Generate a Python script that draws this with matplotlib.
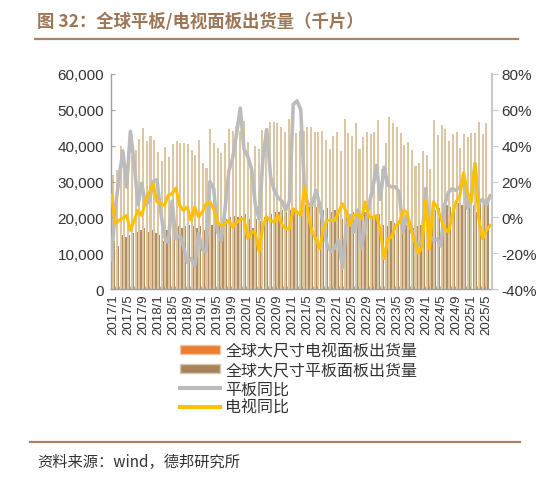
import numpy as np
import matplotlib
matplotlib.use("Agg")
import matplotlib.pyplot as plt
from matplotlib.patches import Patch
from matplotlib.lines import Line2D
from matplotlib.ticker import FuncFormatter

plt.rcParams['font.family'] = ['Liberation Sans', 'Noto Sans CJK SC', 'DejaVu Sans']

# months 2017/1 .. 2025/5
months = [f"{y}/{m}" for y in range(2017, 2026) for m in range(1, 13)][:101]

# 全球大尺寸电视面板出货量 (千片)
tv = [31.8, 33.2, 39.8, 36.7, 35.5, 37.0, 38.8, 41.9, 44.8, 41.4, 42.8, 41.6,
      38.1, 35.6, 39.5, 36.7, 40.5, 41.4, 40.7, 40.7, 40.5, 38.9, 37.4, 41.6,
      35.1, 33.8, 44.7, 40.7, 39.3, 38.0, 40.7, 44.6, 44.1, 45.4, 44.0, 47.0,
      41.0, 34.0, 40.0, 39.0, 44.4, 44.2, 46.7, 46.5, 46.2, 45.1, 43.9, 47.4,
      43.4, 43.4, 44.0, 44.0, 45.1, 45.1, 43.9, 43.7, 44.0, 41.6, 39.1, 42.8,
      43.7, 38.5, 47.4, 43.4, 42.8, 46.2, 39.1, 42.5, 43.7, 43.3, 43.7, 47.2,
      33.5, 40.7, 48.1, 46.2, 45.1, 43.4, 40.1, 40.9, 38.9, 34.4, 35.3, 38.6,
      37.4, 33.5, 47.3, 43.1, 45.9, 44.7, 41.4, 43.3, 43.7, 39.3, 43.3, 42.3,
      43.5, 43.5, 46.7, 43.3, 46.2]
tv = [v * 1000 for v in tv]

# 全球大尺寸平板面板出货量 (千片)
tablet = [13.5, 12.0, 15.0, 14.5, 15.0, 15.5, 16.0, 16.5, 17.0, 16.0, 16.5, 15.5,
          15.0, 13.5, 16.5, 16.0, 17.0, 17.5, 17.0, 17.5, 18.0, 17.5, 17.0, 17.5,
          16.5, 15.0, 18.0, 18.0, 18.5, 19.0, 19.5, 20.0, 20.5, 20.0, 20.5, 21.0,
          19.5, 17.0, 19.5, 19.0, 20.0, 20.5, 21.0, 21.5, 21.5, 22.0, 21.5, 22.0,
          22.5, 21.0, 23.0, 23.5, 23.0, 23.5, 23.0, 22.5, 22.0, 22.5, 21.5, 22.0,
          21.5, 19.5, 22.0, 21.0, 21.5, 22.0, 21.0, 21.5, 20.5, 20.0, 20.5, 21.0,
          18.0, 17.5, 19.0, 18.5, 19.0, 18.5, 18.0, 17.5, 17.0, 17.5, 18.0, 19.0,
          21.0, 18.5, 22.0, 22.5, 23.0, 23.5, 23.0, 22.5, 24.0, 23.5, 24.5, 24.0,
          23.5, 21.5, 24.0, 23.5, 24.5]
tablet = [v * 1000 for v in tablet]

# 平板同比 (%)
tablet_yoy = [-24, 5, 22, 37, 17, 48, 30, 7, 19, 7, 9, 20,
              21, 3, -11, -14, 9, -12, -10, -16, -25, -23, -27, -9,
              -18, -19, 20, 16, -8, -13, 5, 26, 33, 46, 61, 38,
              34, 27, 7, -1, 33, 49, 23, 15, 11, 9, 4, 9,
              63, 65, 60, 14, 7, 7, 15, 7, -5, -16, -19, -17,
              -13, -28, -5, 1, -8, 4, -17, -5, 7, 16, 29, 10,
              28, 18, 17, 17, 14, -8, 1, -5, -12, -16, -13, 16,
              -10, -13, -12, -16, 7, 14, 16, 15, 17, 20, 5, 10,
              30, 8, 10, 7, 12]

# 电视同比 (%)
tv_yoy = [12.6, -3.5, -1.7, -0.4, 1.0, -7.3, -1.7, 3.9, 1.0, 9.5, 14.0, 18.8,
          8.6, 7.6, 6.7, 12.3, 13.2, 16.4, 6.7, 3.9, 5.8, -1.7, 5.8, 0.2,
          3.0, 7.6, 8.6, 4.8, -3.0, -4.5, -3.5, -1.7, -5.4, -3.0, -1.1, -0.7,
          -11.9, -7.8, -9.1, -19.0, -4.5, 0.2, -1.7, -2.6, 1.1, -4.0, -6.3, -6.4,
          4.8, 3.0, 1.1, 17.0, 1.1, -8.2, -11.9, -17.5, -6.3, -1.7, -1.7, -1.7,
          3.0, 7.6, 3.0, -4.5, 1.1, 2.0, -0.7, 8.6, 0.2, 0.0, 1.0, -7.0,
          -23.0, -12.0, -11.0, -5.0, -3.0, 4.0, 3.0, -6.0, -13.0, -20.0, -17.0, 9.5,
          -17.5, 8.6, 5.8, -0.7, -6.3, -8.2, 1.1, 8.6, 12.0, 25.0, 14.0, 8.6,
          30.0, -0.7, -12.0, -7.3, -4.5]

TAN = "#DCC7A2"
BROWN = "#B38D63"
GRAY = "#BCBCBC"
YELLOW = "#FFC000"
TITLE_C = "#9C7655"
AXIS_C = "#A0A0A0"
TEXT_C = "#333333"

fig = plt.figure(figsize=(5.52, 4.85), dpi=100)
rect = [111.3 / 552, 1 - 290 / 485, (492 - 111.3) / 552, (290 - 75) / 485]
ax = fig.add_axes(rect)

x = np.arange(len(months))
ax.bar(x, tv, width=0.55, color=TAN, linewidth=0)
ax.bar(x + 0.45, tablet, width=0.33, color=BROWN, linewidth=0)

ax.set_xlim(-0.5, 101.5)
ax.set_ylim(0, 60000)
ax.set_yticks(np.arange(0, 60001, 10000))
ax.yaxis.set_major_formatter(FuncFormatter(lambda v, p: f"{int(v):,}"))
ax.set_xticks(x[::4])
ax.set_xticklabels(months[::4], rotation=90, fontsize=9.5, color=TEXT_C)
ax.set_xticks(np.arange(-0.5, 101.5, 1), minor=True)
ax.tick_params(axis='x', which='major', length=0, pad=3)
ax.tick_params(axis='x', which='minor', length=2.5, direction='in', color=AXIS_C)
ax.tick_params(axis='y', length=3, direction='in', color=AXIS_C, labelsize=11,
               labelcolor=TEXT_C, pad=5)
for s in ['top', 'right']:
    ax.spines[s].set_visible(False)
for s in ['left', 'bottom']:
    ax.spines[s].set_color(AXIS_C)
    ax.spines[s].set_linewidth(1.0)

# lines on their own axes (placed on tick marks, edge to edge)
ax2 = fig.add_axes(rect, facecolor='none')
ax2.plot(np.arange(len(tablet_yoy)), tablet_yoy, color=GRAY, lw=2.6, solid_joinstyle='round')
ax2.plot(np.arange(len(tv_yoy)), tv_yoy, color=YELLOW, lw=2.2, solid_joinstyle='round')
ax2.set_xlim(-0.05, 100.5)
ax2.set_ylim(-40, 80)
ax2.set_yticks(np.arange(-40, 81, 20))
ax2.yaxis.set_major_formatter(FuncFormatter(lambda v, p: f"{int(v)}%"))
ax2.yaxis.tick_right()
ax2.set_xticks([])
ax2.tick_params(axis='y', length=4, direction='out', color="#C8C8C8", labelsize=11,
                labelcolor=TEXT_C, pad=3)
for s in ['top', 'left', 'bottom']:
    ax2.spines[s].set_visible(False)
ax2.spines['right'].set_color("#C8C8C8")
ax2.spines['right'].set_linewidth(1.5)

# legend
handles = [
    Patch(facecolor="#ED7D31", edgecolor="#E8C9A8", linewidth=1.0),
    Patch(facecolor="#A8845C", edgecolor="#D8C8B0", linewidth=1.0),
    Line2D([], [], color=GRAY, lw=3),
    Line2D([], [], color=YELLOW, lw=3),
]
labels = ["全球大尺寸电视面板出货量", "全球大尺寸平板面板出货量", "平板同比", "电视同比"]
fig.legend(handles, labels, loc='upper left', bbox_to_anchor=(166 / 552, 1 - 329 / 485),
           frameon=False, prop={'family': 'Noto Sans CJK SC', 'size': 11.5},
           handlelength=2.5, handleheight=0.5, labelspacing=0.12, handletextpad=0.3,
           labelcolor=TEXT_C)

# title, rules, source
fig.text(37 / 552, 1 - 22 / 485, "图 32：全球平板/电视面板出货量（千片）", color=TITLE_C,
         fontsize=12.5, fontweight='bold', va='center', ha='left',
         family=['Noto Sans CJK SC', 'DejaVu Sans'])
fig.add_artist(Line2D([35 / 552, 518 / 552], [1 - 40 / 485, 1 - 40 / 485],
                      color="#A88464", lw=1.6))
fig.add_artist(Line2D([30 / 552, 520 / 552], [1 - 443 / 485, 1 - 443 / 485],
                      color="#A88464", lw=1.6))
fig.text(37 / 552, 1 - 462 / 485, "资料来源：wind，德邦研究所", color=TEXT_C,
         fontsize=11, va='center', ha='left', family=['Noto Sans CJK SC', 'DejaVu Sans'])

fig.savefig("out.png", dpi=100)
